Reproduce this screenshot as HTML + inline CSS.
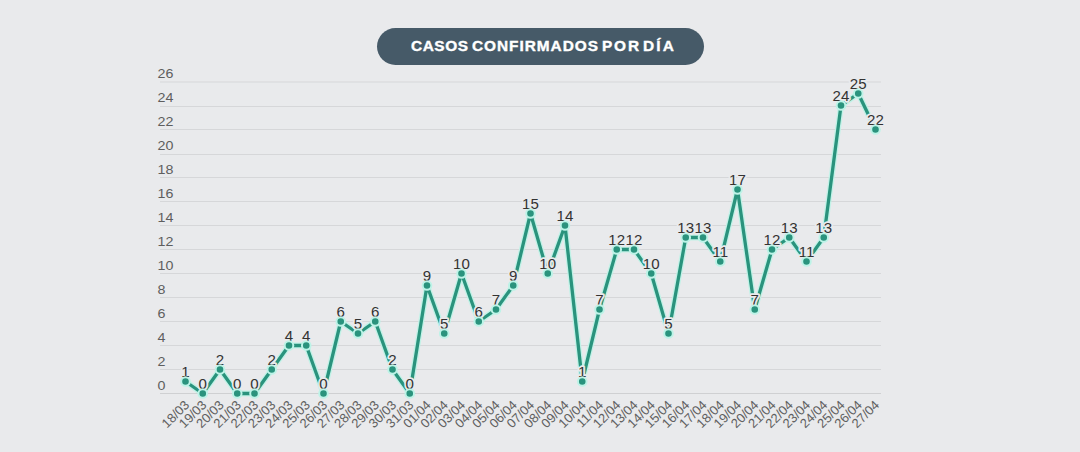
<!DOCTYPE html>
<html><head><meta charset="utf-8"><style>
html,body{margin:0;padding:0;width:1080px;height:452px;overflow:hidden;background:#e9eaec;}
body{position:relative;font-family:"Liberation Sans",sans-serif;}
.pill{position:absolute;left:377px;top:28px;width:327px;height:37px;border-radius:18.5px;background:#465a68;color:#fff;font-weight:bold;font-size:13px;letter-spacing:1.6px;text-align:center;line-height:37px;}
svg{position:absolute;left:0;top:0;}
svg text{font-family:"Liberation Sans",sans-serif;}
</style></head><body>
<div class="pill"></div>
<svg width="1080" height="452" viewBox="0 0 1080 452">
<text transform="translate(411 51) scale(1.1 1)" x="0" y="0" font-size="14" font-weight="bold" fill="#ffffff" stroke="#ffffff" stroke-width="0.35" textLength="51.82" lengthAdjust="spacing">CASOS</text>
<text transform="translate(472 51) scale(1.1 1)" x="0" y="0" font-size="14" font-weight="bold" fill="#ffffff" stroke="#ffffff" stroke-width="0.35" textLength="114.55" lengthAdjust="spacing">CONFIRMADOS</text>
<text transform="translate(602 51) scale(1.1 1)" x="0" y="0" font-size="14" font-weight="bold" fill="#ffffff" stroke="#ffffff" stroke-width="0.35" textLength="33.64" lengthAdjust="spacing">POR</text>
<text transform="translate(643 51) scale(1.1 1)" x="0" y="0" font-size="14" font-weight="bold" fill="#ffffff" stroke="#ffffff" stroke-width="0.35" textLength="28.18" lengthAdjust="spacing">DÍA</text>
<line x1="160" x2="881" y1="393.5" y2="393.5" stroke="#cfd0d2" stroke-width="1"/>
<text transform="translate(157.6 389.9) scale(1.05 1)" x="0" y="0" font-size="13.6" fill="#5e5e5e">0</text>
<line x1="160" x2="881" y1="369.5" y2="369.5" stroke="#d6d7d9" stroke-width="1"/>
<text transform="translate(157.6 365.9) scale(1.05 1)" x="0" y="0" font-size="13.6" fill="#5e5e5e">2</text>
<line x1="160" x2="881" y1="345.5" y2="345.5" stroke="#d6d7d9" stroke-width="1"/>
<text transform="translate(157.6 341.9) scale(1.05 1)" x="0" y="0" font-size="13.6" fill="#5e5e5e">4</text>
<line x1="160" x2="881" y1="321.5" y2="321.5" stroke="#d6d7d9" stroke-width="1"/>
<text transform="translate(157.6 317.9) scale(1.05 1)" x="0" y="0" font-size="13.6" fill="#5e5e5e">6</text>
<line x1="160" x2="881" y1="297.5" y2="297.5" stroke="#d6d7d9" stroke-width="1"/>
<text transform="translate(157.6 293.9) scale(1.05 1)" x="0" y="0" font-size="13.6" fill="#5e5e5e">8</text>
<line x1="160" x2="881" y1="273.5" y2="273.5" stroke="#d6d7d9" stroke-width="1"/>
<text transform="translate(157.6 269.9) scale(1.05 1)" x="0" y="0" font-size="13.6" fill="#5e5e5e">10</text>
<line x1="160" x2="881" y1="249.5" y2="249.5" stroke="#d6d7d9" stroke-width="1"/>
<text transform="translate(157.6 245.9) scale(1.05 1)" x="0" y="0" font-size="13.6" fill="#5e5e5e">12</text>
<line x1="160" x2="881" y1="225.5" y2="225.5" stroke="#d6d7d9" stroke-width="1"/>
<text transform="translate(157.6 221.9) scale(1.05 1)" x="0" y="0" font-size="13.6" fill="#5e5e5e">14</text>
<line x1="160" x2="881" y1="201.5" y2="201.5" stroke="#d6d7d9" stroke-width="1"/>
<text transform="translate(157.6 197.9) scale(1.05 1)" x="0" y="0" font-size="13.6" fill="#5e5e5e">16</text>
<line x1="160" x2="881" y1="177.5" y2="177.5" stroke="#d6d7d9" stroke-width="1"/>
<text transform="translate(157.6 173.9) scale(1.05 1)" x="0" y="0" font-size="13.6" fill="#5e5e5e">18</text>
<line x1="160" x2="881" y1="154.5" y2="154.5" stroke="#d6d7d9" stroke-width="1"/>
<text transform="translate(157.6 149.9) scale(1.05 1)" x="0" y="0" font-size="13.6" fill="#5e5e5e">20</text>
<line x1="160" x2="881" y1="129.5" y2="129.5" stroke="#d6d7d9" stroke-width="1"/>
<text transform="translate(157.6 125.9) scale(1.05 1)" x="0" y="0" font-size="13.6" fill="#5e5e5e">22</text>
<line x1="160" x2="881" y1="106.5" y2="106.5" stroke="#d6d7d9" stroke-width="1"/>
<text transform="translate(157.6 101.9) scale(1.05 1)" x="0" y="0" font-size="13.6" fill="#5e5e5e">24</text>
<line x1="160" x2="881" y1="82.0" y2="82.0" stroke="#d6d7d9" stroke-width="1"/>
<text transform="translate(157.6 77.9) scale(1.05 1)" x="0" y="0" font-size="13.6" fill="#5e5e5e">26</text>
<text x="190.10" y="405.8" text-anchor="end" transform="rotate(-45 190.10 405.8)" font-size="13" fill="#606060">18/03</text>
<text x="207.35" y="405.8" text-anchor="end" transform="rotate(-45 207.35 405.8)" font-size="13" fill="#606060">19/03</text>
<text x="224.60" y="405.8" text-anchor="end" transform="rotate(-45 224.60 405.8)" font-size="13" fill="#606060">20/03</text>
<text x="241.85" y="405.8" text-anchor="end" transform="rotate(-45 241.85 405.8)" font-size="13" fill="#606060">21/03</text>
<text x="259.10" y="405.8" text-anchor="end" transform="rotate(-45 259.10 405.8)" font-size="13" fill="#606060">22/03</text>
<text x="276.35" y="405.8" text-anchor="end" transform="rotate(-45 276.35 405.8)" font-size="13" fill="#606060">23/03</text>
<text x="293.60" y="405.8" text-anchor="end" transform="rotate(-45 293.60 405.8)" font-size="13" fill="#606060">24/03</text>
<text x="310.85" y="405.8" text-anchor="end" transform="rotate(-45 310.85 405.8)" font-size="13" fill="#606060">25/03</text>
<text x="328.10" y="405.8" text-anchor="end" transform="rotate(-45 328.10 405.8)" font-size="13" fill="#606060">26/03</text>
<text x="345.35" y="405.8" text-anchor="end" transform="rotate(-45 345.35 405.8)" font-size="13" fill="#606060">27/03</text>
<text x="362.60" y="405.8" text-anchor="end" transform="rotate(-45 362.60 405.8)" font-size="13" fill="#606060">28/03</text>
<text x="379.85" y="405.8" text-anchor="end" transform="rotate(-45 379.85 405.8)" font-size="13" fill="#606060">29/03</text>
<text x="397.10" y="405.8" text-anchor="end" transform="rotate(-45 397.10 405.8)" font-size="13" fill="#606060">30/03</text>
<text x="414.35" y="405.8" text-anchor="end" transform="rotate(-45 414.35 405.8)" font-size="13" fill="#606060">31/03</text>
<text x="431.60" y="405.8" text-anchor="end" transform="rotate(-45 431.60 405.8)" font-size="13" fill="#606060">01/04</text>
<text x="448.85" y="405.8" text-anchor="end" transform="rotate(-45 448.85 405.8)" font-size="13" fill="#606060">02/04</text>
<text x="466.10" y="405.8" text-anchor="end" transform="rotate(-45 466.10 405.8)" font-size="13" fill="#606060">03/04</text>
<text x="483.35" y="405.8" text-anchor="end" transform="rotate(-45 483.35 405.8)" font-size="13" fill="#606060">04/04</text>
<text x="500.60" y="405.8" text-anchor="end" transform="rotate(-45 500.60 405.8)" font-size="13" fill="#606060">05/04</text>
<text x="517.85" y="405.8" text-anchor="end" transform="rotate(-45 517.85 405.8)" font-size="13" fill="#606060">06/04</text>
<text x="535.10" y="405.8" text-anchor="end" transform="rotate(-45 535.10 405.8)" font-size="13" fill="#606060">07/04</text>
<text x="552.35" y="405.8" text-anchor="end" transform="rotate(-45 552.35 405.8)" font-size="13" fill="#606060">08/04</text>
<text x="569.60" y="405.8" text-anchor="end" transform="rotate(-45 569.60 405.8)" font-size="13" fill="#606060">09/04</text>
<text x="586.85" y="405.8" text-anchor="end" transform="rotate(-45 586.85 405.8)" font-size="13" fill="#606060">10/04</text>
<text x="604.10" y="405.8" text-anchor="end" transform="rotate(-45 604.10 405.8)" font-size="13" fill="#606060">11/04</text>
<text x="621.35" y="405.8" text-anchor="end" transform="rotate(-45 621.35 405.8)" font-size="13" fill="#606060">12/04</text>
<text x="638.60" y="405.8" text-anchor="end" transform="rotate(-45 638.60 405.8)" font-size="13" fill="#606060">13/04</text>
<text x="655.85" y="405.8" text-anchor="end" transform="rotate(-45 655.85 405.8)" font-size="13" fill="#606060">14/04</text>
<text x="673.10" y="405.8" text-anchor="end" transform="rotate(-45 673.10 405.8)" font-size="13" fill="#606060">15/04</text>
<text x="690.35" y="405.8" text-anchor="end" transform="rotate(-45 690.35 405.8)" font-size="13" fill="#606060">16/04</text>
<text x="707.60" y="405.8" text-anchor="end" transform="rotate(-45 707.60 405.8)" font-size="13" fill="#606060">17/04</text>
<text x="724.85" y="405.8" text-anchor="end" transform="rotate(-45 724.85 405.8)" font-size="13" fill="#606060">18/04</text>
<text x="742.10" y="405.8" text-anchor="end" transform="rotate(-45 742.10 405.8)" font-size="13" fill="#606060">19/04</text>
<text x="759.35" y="405.8" text-anchor="end" transform="rotate(-45 759.35 405.8)" font-size="13" fill="#606060">20/04</text>
<text x="776.60" y="405.8" text-anchor="end" transform="rotate(-45 776.60 405.8)" font-size="13" fill="#606060">21/04</text>
<text x="793.85" y="405.8" text-anchor="end" transform="rotate(-45 793.85 405.8)" font-size="13" fill="#606060">22/04</text>
<text x="811.10" y="405.8" text-anchor="end" transform="rotate(-45 811.10 405.8)" font-size="13" fill="#606060">23/04</text>
<text x="828.35" y="405.8" text-anchor="end" transform="rotate(-45 828.35 405.8)" font-size="13" fill="#606060">24/04</text>
<text x="845.60" y="405.8" text-anchor="end" transform="rotate(-45 845.60 405.8)" font-size="13" fill="#606060">25/04</text>
<text x="862.85" y="405.8" text-anchor="end" transform="rotate(-45 862.85 405.8)" font-size="13" fill="#606060">26/04</text>
<text x="880.10" y="405.8" text-anchor="end" transform="rotate(-45 880.10 405.8)" font-size="13" fill="#606060">27/04</text>
<polyline points="185.50,381.50 202.75,393.50 220.00,369.50 237.25,393.50 254.50,393.50 271.75,369.50 289.00,345.50 306.25,345.50 323.50,393.50 340.75,321.50 358.00,333.50 375.25,321.50 392.50,369.50 409.75,393.50 427.00,285.50 444.25,333.50 461.50,273.50 478.75,321.50 496.00,309.50 513.25,285.50 530.50,213.50 547.75,273.50 565.00,225.50 582.25,381.50 599.50,309.50 616.75,249.50 634.00,249.50 651.25,273.50 668.50,333.50 685.75,237.50 703.00,237.50 720.25,261.50 737.50,189.50 754.75,309.50 772.00,249.50 789.25,237.50 806.50,261.50 823.75,237.50 841.00,105.50 858.25,93.50 875.50,129.50" fill="none" stroke="#bdf3e7" stroke-width="5.9" stroke-linejoin="round" stroke-linecap="round" opacity="0.9"/>
<polyline points="185.50,381.50 202.75,393.50 220.00,369.50 237.25,393.50 254.50,393.50 271.75,369.50 289.00,345.50 306.25,345.50 323.50,393.50 340.75,321.50 358.00,333.50 375.25,321.50 392.50,369.50 409.75,393.50 427.00,285.50 444.25,333.50 461.50,273.50 478.75,321.50 496.00,309.50 513.25,285.50 530.50,213.50 547.75,273.50 565.00,225.50 582.25,381.50 599.50,309.50 616.75,249.50 634.00,249.50 651.25,273.50 668.50,333.50 685.75,237.50 703.00,237.50 720.25,261.50 737.50,189.50 754.75,309.50 772.00,249.50 789.25,237.50 806.50,261.50 823.75,237.50 841.00,105.50 858.25,93.50 875.50,129.50" fill="none" stroke="#2a937d" stroke-width="3.3" stroke-linejoin="round"/>
<text transform="translate(185.50 376.80) scale(1.04 1)" x="0" y="0" text-anchor="middle" font-size="14.5" fill="#333333" stroke="#e9eaec" stroke-width="3.5" paint-order="stroke" stroke-linejoin="round">1</text>
<text transform="translate(202.75 388.80) scale(1.04 1)" x="0" y="0" text-anchor="middle" font-size="14.5" fill="#333333" stroke="#e9eaec" stroke-width="3.5" paint-order="stroke" stroke-linejoin="round">0</text>
<text transform="translate(220.00 364.80) scale(1.04 1)" x="0" y="0" text-anchor="middle" font-size="14.5" fill="#333333" stroke="#e9eaec" stroke-width="3.5" paint-order="stroke" stroke-linejoin="round">2</text>
<text transform="translate(237.25 388.80) scale(1.04 1)" x="0" y="0" text-anchor="middle" font-size="14.5" fill="#333333" stroke="#e9eaec" stroke-width="3.5" paint-order="stroke" stroke-linejoin="round">0</text>
<text transform="translate(254.50 388.80) scale(1.04 1)" x="0" y="0" text-anchor="middle" font-size="14.5" fill="#333333" stroke="#e9eaec" stroke-width="3.5" paint-order="stroke" stroke-linejoin="round">0</text>
<text transform="translate(271.75 364.80) scale(1.04 1)" x="0" y="0" text-anchor="middle" font-size="14.5" fill="#333333" stroke="#e9eaec" stroke-width="3.5" paint-order="stroke" stroke-linejoin="round">2</text>
<text transform="translate(289.00 340.80) scale(1.04 1)" x="0" y="0" text-anchor="middle" font-size="14.5" fill="#333333" stroke="#e9eaec" stroke-width="3.5" paint-order="stroke" stroke-linejoin="round">4</text>
<text transform="translate(306.25 340.80) scale(1.04 1)" x="0" y="0" text-anchor="middle" font-size="14.5" fill="#333333" stroke="#e9eaec" stroke-width="3.5" paint-order="stroke" stroke-linejoin="round">4</text>
<text transform="translate(323.50 388.80) scale(1.04 1)" x="0" y="0" text-anchor="middle" font-size="14.5" fill="#333333" stroke="#e9eaec" stroke-width="3.5" paint-order="stroke" stroke-linejoin="round">0</text>
<text transform="translate(340.75 316.80) scale(1.04 1)" x="0" y="0" text-anchor="middle" font-size="14.5" fill="#333333" stroke="#e9eaec" stroke-width="3.5" paint-order="stroke" stroke-linejoin="round">6</text>
<text transform="translate(358.00 328.80) scale(1.04 1)" x="0" y="0" text-anchor="middle" font-size="14.5" fill="#333333" stroke="#e9eaec" stroke-width="3.5" paint-order="stroke" stroke-linejoin="round">5</text>
<text transform="translate(375.25 316.80) scale(1.04 1)" x="0" y="0" text-anchor="middle" font-size="14.5" fill="#333333" stroke="#e9eaec" stroke-width="3.5" paint-order="stroke" stroke-linejoin="round">6</text>
<text transform="translate(392.50 364.80) scale(1.04 1)" x="0" y="0" text-anchor="middle" font-size="14.5" fill="#333333" stroke="#e9eaec" stroke-width="3.5" paint-order="stroke" stroke-linejoin="round">2</text>
<text transform="translate(409.75 388.80) scale(1.04 1)" x="0" y="0" text-anchor="middle" font-size="14.5" fill="#333333" stroke="#e9eaec" stroke-width="3.5" paint-order="stroke" stroke-linejoin="round">0</text>
<text transform="translate(427.00 280.80) scale(1.04 1)" x="0" y="0" text-anchor="middle" font-size="14.5" fill="#333333" stroke="#e9eaec" stroke-width="3.5" paint-order="stroke" stroke-linejoin="round">9</text>
<text transform="translate(444.25 328.80) scale(1.04 1)" x="0" y="0" text-anchor="middle" font-size="14.5" fill="#333333" stroke="#e9eaec" stroke-width="3.5" paint-order="stroke" stroke-linejoin="round">5</text>
<text transform="translate(461.50 268.80) scale(1.04 1)" x="0" y="0" text-anchor="middle" font-size="14.5" fill="#333333" stroke="#e9eaec" stroke-width="3.5" paint-order="stroke" stroke-linejoin="round">10</text>
<text transform="translate(478.75 316.80) scale(1.04 1)" x="0" y="0" text-anchor="middle" font-size="14.5" fill="#333333" stroke="#e9eaec" stroke-width="3.5" paint-order="stroke" stroke-linejoin="round">6</text>
<text transform="translate(496.00 304.80) scale(1.04 1)" x="0" y="0" text-anchor="middle" font-size="14.5" fill="#333333" stroke="#e9eaec" stroke-width="3.5" paint-order="stroke" stroke-linejoin="round">7</text>
<text transform="translate(513.25 280.80) scale(1.04 1)" x="0" y="0" text-anchor="middle" font-size="14.5" fill="#333333" stroke="#e9eaec" stroke-width="3.5" paint-order="stroke" stroke-linejoin="round">9</text>
<text transform="translate(530.50 208.80) scale(1.04 1)" x="0" y="0" text-anchor="middle" font-size="14.5" fill="#333333" stroke="#e9eaec" stroke-width="3.5" paint-order="stroke" stroke-linejoin="round">15</text>
<text transform="translate(547.75 268.80) scale(1.04 1)" x="0" y="0" text-anchor="middle" font-size="14.5" fill="#333333" stroke="#e9eaec" stroke-width="3.5" paint-order="stroke" stroke-linejoin="round">10</text>
<text transform="translate(565.00 220.80) scale(1.04 1)" x="0" y="0" text-anchor="middle" font-size="14.5" fill="#333333" stroke="#e9eaec" stroke-width="3.5" paint-order="stroke" stroke-linejoin="round">14</text>
<text transform="translate(582.25 376.80) scale(1.04 1)" x="0" y="0" text-anchor="middle" font-size="14.5" fill="#333333" stroke="#e9eaec" stroke-width="3.5" paint-order="stroke" stroke-linejoin="round">1</text>
<text transform="translate(599.50 304.80) scale(1.04 1)" x="0" y="0" text-anchor="middle" font-size="14.5" fill="#333333" stroke="#e9eaec" stroke-width="3.5" paint-order="stroke" stroke-linejoin="round">7</text>
<text transform="translate(616.75 244.80) scale(1.04 1)" x="0" y="0" text-anchor="middle" font-size="14.5" fill="#333333" stroke="#e9eaec" stroke-width="3.5" paint-order="stroke" stroke-linejoin="round">12</text>
<text transform="translate(634.00 244.80) scale(1.04 1)" x="0" y="0" text-anchor="middle" font-size="14.5" fill="#333333" stroke="#e9eaec" stroke-width="3.5" paint-order="stroke" stroke-linejoin="round">12</text>
<text transform="translate(651.25 268.80) scale(1.04 1)" x="0" y="0" text-anchor="middle" font-size="14.5" fill="#333333" stroke="#e9eaec" stroke-width="3.5" paint-order="stroke" stroke-linejoin="round">10</text>
<text transform="translate(668.50 328.80) scale(1.04 1)" x="0" y="0" text-anchor="middle" font-size="14.5" fill="#333333" stroke="#e9eaec" stroke-width="3.5" paint-order="stroke" stroke-linejoin="round">5</text>
<text transform="translate(685.75 232.80) scale(1.04 1)" x="0" y="0" text-anchor="middle" font-size="14.5" fill="#333333" stroke="#e9eaec" stroke-width="3.5" paint-order="stroke" stroke-linejoin="round">13</text>
<text transform="translate(703.00 232.80) scale(1.04 1)" x="0" y="0" text-anchor="middle" font-size="14.5" fill="#333333" stroke="#e9eaec" stroke-width="3.5" paint-order="stroke" stroke-linejoin="round">13</text>
<text transform="translate(720.25 256.80) scale(1.04 1)" x="0" y="0" text-anchor="middle" font-size="14.5" fill="#333333" stroke="#e9eaec" stroke-width="3.5" paint-order="stroke" stroke-linejoin="round">11</text>
<text transform="translate(737.50 184.80) scale(1.04 1)" x="0" y="0" text-anchor="middle" font-size="14.5" fill="#333333" stroke="#e9eaec" stroke-width="3.5" paint-order="stroke" stroke-linejoin="round">17</text>
<text transform="translate(754.75 304.80) scale(1.04 1)" x="0" y="0" text-anchor="middle" font-size="14.5" fill="#333333" stroke="#e9eaec" stroke-width="3.5" paint-order="stroke" stroke-linejoin="round">7</text>
<text transform="translate(772.00 244.80) scale(1.04 1)" x="0" y="0" text-anchor="middle" font-size="14.5" fill="#333333" stroke="#e9eaec" stroke-width="3.5" paint-order="stroke" stroke-linejoin="round">12</text>
<text transform="translate(789.25 232.80) scale(1.04 1)" x="0" y="0" text-anchor="middle" font-size="14.5" fill="#333333" stroke="#e9eaec" stroke-width="3.5" paint-order="stroke" stroke-linejoin="round">13</text>
<text transform="translate(806.50 256.80) scale(1.04 1)" x="0" y="0" text-anchor="middle" font-size="14.5" fill="#333333" stroke="#e9eaec" stroke-width="3.5" paint-order="stroke" stroke-linejoin="round">11</text>
<text transform="translate(823.75 232.80) scale(1.04 1)" x="0" y="0" text-anchor="middle" font-size="14.5" fill="#333333" stroke="#e9eaec" stroke-width="3.5" paint-order="stroke" stroke-linejoin="round">13</text>
<text transform="translate(841.00 100.80) scale(1.04 1)" x="0" y="0" text-anchor="middle" font-size="14.5" fill="#333333" stroke="#e9eaec" stroke-width="3.5" paint-order="stroke" stroke-linejoin="round">24</text>
<text transform="translate(858.25 88.80) scale(1.04 1)" x="0" y="0" text-anchor="middle" font-size="14.5" fill="#333333" stroke="#e9eaec" stroke-width="3.5" paint-order="stroke" stroke-linejoin="round">25</text>
<text transform="translate(875.50 124.80) scale(1.04 1)" x="0" y="0" text-anchor="middle" font-size="14.5" fill="#333333" stroke="#e9eaec" stroke-width="3.5" paint-order="stroke" stroke-linejoin="round">22</text>
<circle cx="185.50" cy="381.50" r="4.3" fill="#2a937d" stroke="#bdf3e7" stroke-width="2"/>
<circle cx="202.75" cy="393.50" r="4.3" fill="#2a937d" stroke="#bdf3e7" stroke-width="2"/>
<circle cx="220.00" cy="369.50" r="4.3" fill="#2a937d" stroke="#bdf3e7" stroke-width="2"/>
<circle cx="237.25" cy="393.50" r="4.3" fill="#2a937d" stroke="#bdf3e7" stroke-width="2"/>
<circle cx="254.50" cy="393.50" r="4.3" fill="#2a937d" stroke="#bdf3e7" stroke-width="2"/>
<circle cx="271.75" cy="369.50" r="4.3" fill="#2a937d" stroke="#bdf3e7" stroke-width="2"/>
<circle cx="289.00" cy="345.50" r="4.3" fill="#2a937d" stroke="#bdf3e7" stroke-width="2"/>
<circle cx="306.25" cy="345.50" r="4.3" fill="#2a937d" stroke="#bdf3e7" stroke-width="2"/>
<circle cx="323.50" cy="393.50" r="4.3" fill="#2a937d" stroke="#bdf3e7" stroke-width="2"/>
<circle cx="340.75" cy="321.50" r="4.3" fill="#2a937d" stroke="#bdf3e7" stroke-width="2"/>
<circle cx="358.00" cy="333.50" r="4.3" fill="#2a937d" stroke="#bdf3e7" stroke-width="2"/>
<circle cx="375.25" cy="321.50" r="4.3" fill="#2a937d" stroke="#bdf3e7" stroke-width="2"/>
<circle cx="392.50" cy="369.50" r="4.3" fill="#2a937d" stroke="#bdf3e7" stroke-width="2"/>
<circle cx="409.75" cy="393.50" r="4.3" fill="#2a937d" stroke="#bdf3e7" stroke-width="2"/>
<circle cx="427.00" cy="285.50" r="4.3" fill="#2a937d" stroke="#bdf3e7" stroke-width="2"/>
<circle cx="444.25" cy="333.50" r="4.3" fill="#2a937d" stroke="#bdf3e7" stroke-width="2"/>
<circle cx="461.50" cy="273.50" r="4.3" fill="#2a937d" stroke="#bdf3e7" stroke-width="2"/>
<circle cx="478.75" cy="321.50" r="4.3" fill="#2a937d" stroke="#bdf3e7" stroke-width="2"/>
<circle cx="496.00" cy="309.50" r="4.3" fill="#2a937d" stroke="#bdf3e7" stroke-width="2"/>
<circle cx="513.25" cy="285.50" r="4.3" fill="#2a937d" stroke="#bdf3e7" stroke-width="2"/>
<circle cx="530.50" cy="213.50" r="4.3" fill="#2a937d" stroke="#bdf3e7" stroke-width="2"/>
<circle cx="547.75" cy="273.50" r="4.3" fill="#2a937d" stroke="#bdf3e7" stroke-width="2"/>
<circle cx="565.00" cy="225.50" r="4.3" fill="#2a937d" stroke="#bdf3e7" stroke-width="2"/>
<circle cx="582.25" cy="381.50" r="4.3" fill="#2a937d" stroke="#bdf3e7" stroke-width="2"/>
<circle cx="599.50" cy="309.50" r="4.3" fill="#2a937d" stroke="#bdf3e7" stroke-width="2"/>
<circle cx="616.75" cy="249.50" r="4.3" fill="#2a937d" stroke="#bdf3e7" stroke-width="2"/>
<circle cx="634.00" cy="249.50" r="4.3" fill="#2a937d" stroke="#bdf3e7" stroke-width="2"/>
<circle cx="651.25" cy="273.50" r="4.3" fill="#2a937d" stroke="#bdf3e7" stroke-width="2"/>
<circle cx="668.50" cy="333.50" r="4.3" fill="#2a937d" stroke="#bdf3e7" stroke-width="2"/>
<circle cx="685.75" cy="237.50" r="4.3" fill="#2a937d" stroke="#bdf3e7" stroke-width="2"/>
<circle cx="703.00" cy="237.50" r="4.3" fill="#2a937d" stroke="#bdf3e7" stroke-width="2"/>
<circle cx="720.25" cy="261.50" r="4.3" fill="#2a937d" stroke="#bdf3e7" stroke-width="2"/>
<circle cx="737.50" cy="189.50" r="4.3" fill="#2a937d" stroke="#bdf3e7" stroke-width="2"/>
<circle cx="754.75" cy="309.50" r="4.3" fill="#2a937d" stroke="#bdf3e7" stroke-width="2"/>
<circle cx="772.00" cy="249.50" r="4.3" fill="#2a937d" stroke="#bdf3e7" stroke-width="2"/>
<circle cx="789.25" cy="237.50" r="4.3" fill="#2a937d" stroke="#bdf3e7" stroke-width="2"/>
<circle cx="806.50" cy="261.50" r="4.3" fill="#2a937d" stroke="#bdf3e7" stroke-width="2"/>
<circle cx="823.75" cy="237.50" r="4.3" fill="#2a937d" stroke="#bdf3e7" stroke-width="2"/>
<circle cx="841.00" cy="105.50" r="4.3" fill="#2a937d" stroke="#bdf3e7" stroke-width="2"/>
<circle cx="858.25" cy="93.50" r="4.3" fill="#2a937d" stroke="#bdf3e7" stroke-width="2"/>
<circle cx="875.50" cy="129.50" r="4.3" fill="#2a937d" stroke="#bdf3e7" stroke-width="2"/>
</svg>
</body></html>
